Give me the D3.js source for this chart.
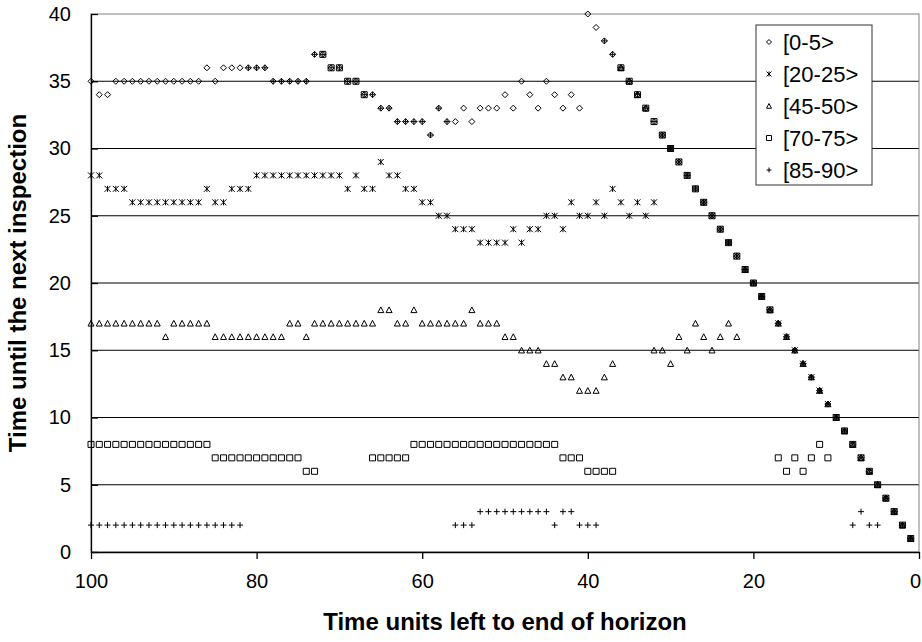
<!DOCTYPE html>
<html>
<head>
<meta charset="utf-8">
<script src="https://cdn.jsdelivr.net/npm/d3@7"></script>
<style>
  body { margin: 0; background: #fff; }
  svg { font-family: "Liberation Sans", Arial, sans-serif; }
</style>
</head>
<body>
<script>
'use strict';

const width = 922;
const height = 642;
const plotLeft = 91;
const plotRight = 919;
const plotTop = 14;
const plotBottom = 552;

// time units left to end of horizon, 100 down to 1
const times = [
    100, 99, 98, 97, 96, 95, 94, 93, 92, 91, 90, 89, 88, 87, 86, 85, 84, 83, 82, 81,
    80, 79, 78, 77, 76, 75, 74, 73, 72, 71, 70, 69, 68, 67, 66, 65, 64, 63, 62, 61,
    60, 59, 58, 57, 56, 55, 54, 53, 52, 51, 50, 49, 48, 47, 46, 45, 44, 43, 42, 41,
    40, 39, 38, 37, 36, 35, 34, 33, 32, 31, 30, 29, 28, 27, 26, 25, 24, 23, 22, 21,
    20, 19, 18, 17, 16, 15, 14, 13, 12, 11, 10, 9, 8, 7, 6, 5, 4, 3, 2, 1
];

// time until next inspection, one value per entry of times
const age0to5 = [
    35, 34, 34, 35, 35, 35, 35, 35, 35, 35, 35, 35, 35, 35,
    36, 35, 36, 36, 36, 36, 36, 36, 35, 35, 35, 35, 35,
    37, 37, 36, 36, 35, 35, 34, 34, 33, 33, 32, 32, 32, 32,
    31, 33, 32, 32, 33, 32, 33, 33, 33, 34, 33, 35, 34, 33, 35, 34, 33, 34, 33,
    40, 39, 38, 37, 36, 35, 34, 33, 32, 31, 30, 29, 28, 27, 26, 25, 24, 23, 22, 21,
    20, 19, 18, 17, 16, 15, 14, 13, 12, 11, 10, 9, 8, 7, 6, 5, 4, 3, 2, 1
];

const age20to25 = [
    28, 28, 27, 27, 27, 26, 26, 26, 26, 26, 26, 26, 26, 26,
    27, 26, 26, 27, 27, 27, 28, 28, 28, 28, 28, 28, 28,
    28, 28, 28, 28, 27, 28, 27, 27, 29, 28, 28, 27, 27, 26,
    26, 25, 25, 24, 24, 24, 23, 23, 23, 23, 24, 23, 24, 24, 25, 25, 24, 26, 25,
    25, 26, 25, 27, 26, 25, 26, 25, 26, 31, 30, 29, 28, 27, 26, 25, 24, 23, 22, 21,
    20, 19, 18, 17, 16, 15, 14, 13, 12, 11, 10, 9, 8, 7, 6, 5, 4, 3, 2, 1
];

const age45to50 = [
    17, 17, 17, 17, 17, 17, 17, 17, 17, 16, 17, 17, 17, 17,
    17, 16, 16, 16, 16, 16, 16, 16, 16, 16, 17, 17, 16,
    17, 17, 17, 17, 17, 17, 17, 17, 18, 18, 17, 17, 18, 17,
    17, 17, 17, 17, 17, 18, 17, 17, 17, 16, 16, 15, 15, 15, 14, 14, 13, 13, 12,
    12, 12, 13, 14, 36, 35, 34, 33, 15, 15, 14, 16, 15, 17, 16, 15, 16, 17, 16, 21,
    20, 19, 18, 17, 16, 15, 14, 13, 12, 11, 10, 9, 8, 7, 6, 5, 4, 3, 2, 1
];

const age70to75 = [
    8, 8, 8, 8, 8, 8, 8, 8, 8, 8, 8, 8, 8, 8,
    8, 7, 7, 7, 7, 7, 7, 7, 7, 7, 7, 7, 6,
    6, 37, 36, 36, 35, 35, 34, 7, 7, 7, 7, 7, 8, 8,
    8, 8, 8, 8, 8, 8, 8, 8, 8, 8, 8, 8, 8, 8, 8, 8, 7, 7, 7,
    6, 6, 6, 6, 36, 35, 34, 33, 32, 31, 30, 29, 28, 27, 26, 25, 24, 23, 22, 21,
    20, 19, 18, 7, 6, 7, 6, 7, 8, 7, 10, 9, 8, 7, 6, 5, 4, 3, 2, 1
];

const age85to90 = [
    2, 2, 2, 2, 2, 2, 2, 2, 2, 2, 2, 2, 2, 2,
    2, 2, 2, 2, 2, 36, 36, 36, 35, 35, 35, 35, 35,
    37, 37, 36, 36, 35, 35, 34, 34, 33, 33, 32, 32, 32, 32,
    31, 33, 32, 2, 2, 2, 3, 3, 3, 3, 3, 3, 3, 3, 3, 2, 3, 3, 2,
    2, 2, 38, 37, 36, 35, 34, 33, 32, 31, 30, 29, 28, 27, 26, 25, 24, 23, 22, 21,
    20, 19, 18, 17, 16, 15, 14, 13, 12, 11, 10, 9, 2, 3, 2, 2, 4, 3, 2, 1
];

const seriesNames = ['[0-5>', '[20-25>', '[45-50>', '[70-75>', '[85-90>'];
const seriesValues = [age0to5, age20to25, age45to50, age70to75, age85to90];
const seriesMarkers = ['diamond', 'star', 'triangle', 'square', 'plus'];

const xTicks = [100, 80, 60, 40, 20, 0];
const yTicks = [0, 5, 10, 15, 20, 25, 30, 35, 40];

function markerPath(type, h) {
    if (type === 'diamond') return `M0,${-h}L${h},0L0,${h}L${-h},0Z`;
    if (type === 'star') return `M${-h},${-h}L${h},${h}M${-h},${h}L${h},${-h}M0,${-h}L0,${h}`;
    if (type === 'triangle') return `M0,${-h}L${h},${h * 0.9}L${-h},${h * 0.9}Z`;
    if (type === 'square') return `M${-h},${-h}H${h}V${h}H${-h}Z`;
    return `M${-h},0H${h}M0,${-h}V${h}`;
}

let svg = d3.select('body').append('svg')
    .attr('width', width)
    .attr('height', height);

let xScale = d3.scaleLinear().domain([100, 0]).range([plotLeft, plotRight]);
let yScale = d3.scaleLinear().domain([0, 40]).range([plotBottom, plotTop]);

// gridlines
svg.append('g')
    .selectAll('line')
    .data(yTicks.filter(t => t > 0 && t < 40))
    .join('line')
    .attr('x1', plotLeft)
    .attr('x2', plotRight)
    .attr('y1', d => yScale(d))
    .attr('y2', d => yScale(d))
    .attr('stroke', '#000')
    .attr('stroke-width', 1);

// plot area border
svg.append('rect')
    .attr('x', plotLeft)
    .attr('y', plotTop)
    .attr('width', plotRight - plotLeft)
    .attr('height', plotBottom - plotTop)
    .attr('fill', 'none')
    .attr('stroke', '#808080')
    .attr('stroke-width', 1);

const xAxis = d3.axisBottom(xScale)
    .tickValues(xTicks)
    .tickSizeInner(7)
    .tickSizeOuter(0)
    .tickPadding(15)
    .tickFormat(d3.format('d'));

const yAxis = d3.axisLeft(yScale)
    .tickValues(yTicks)
    .tickSizeInner(-7)
    .tickSizeOuter(0)
    .tickPadding(20)
    .tickFormat(d3.format('d'));

svg.append('g')
    .attr('class', 'x axis')
    .attr('transform', 'translate(0,' + plotBottom + ')')
    .call(xAxis);

svg.append('g')
    .attr('class', 'y axis')
    .attr('transform', 'translate(' + plotLeft + ',0)')
    .call(yAxis);

svg.selectAll('.axis path, .axis line').attr('stroke', '#000').attr('stroke-width', 1.3);
svg.selectAll('.axis text').attr('font-size', 20).attr('fill', '#000')
    .attr('font-family', '"Liberation Sans", Arial, sans-serif');
// last x label sits on the right edge
svg.selectAll('.x.axis .tick text').filter(d => d === 0).attr('dx', -4);

// markers, one group per series
seriesValues.forEach((vals, i) => {
    svg.append('g')
        .selectAll('path')
        .data(times.map((t, j) => ({ t: t, v: vals[j] })))
        .join('path')
        .attr('transform', d => 'translate(' + xScale(d.t) + ',' + yScale(d.v) + ')')
        .attr('d', markerPath(seriesMarkers[i], 3))
        .attr('fill', 'none')
        .attr('stroke', '#000')
        .attr('stroke-width', 1);
});

// axis titles
svg.append('text')
    .attr('x', (plotLeft + plotRight) / 2)
    .attr('y', 630)
    .attr('text-anchor', 'middle')
    .attr('font-size', 24)
    .attr('font-weight', 'bold')
    .text('Time units left to end of horizon');

svg.append('text')
    .attr('transform', 'translate(26,' + (plotTop + plotBottom) / 2 + ') rotate(-90)')
    .attr('text-anchor', 'middle')
    .attr('font-size', 24)
    .attr('font-weight', 'bold')
    .text('Time until the next inspection');

// legend
let legend = svg.append('g').attr('transform', 'translate(756,25)');
legend.append('rect')
    .attr('width', 116)
    .attr('height', 160)
    .attr('fill', '#fff')
    .attr('stroke', '#333')
    .attr('stroke-width', 1);

seriesNames.forEach((name, i) => {
    let row = legend.append('g').attr('transform', 'translate(0,' + (17 + i * 32) + ')');
    row.append('path')
        .attr('transform', 'translate(13,0)')
        .attr('d', markerPath(seriesMarkers[i], 2.5))
        .attr('fill', 'none')
        .attr('stroke', '#000');
    row.append('text')
        .attr('x', 27)
        .attr('y', 8)
        .attr('font-size', 22)
        .text(name);
});
</script>
</body>
</html>
